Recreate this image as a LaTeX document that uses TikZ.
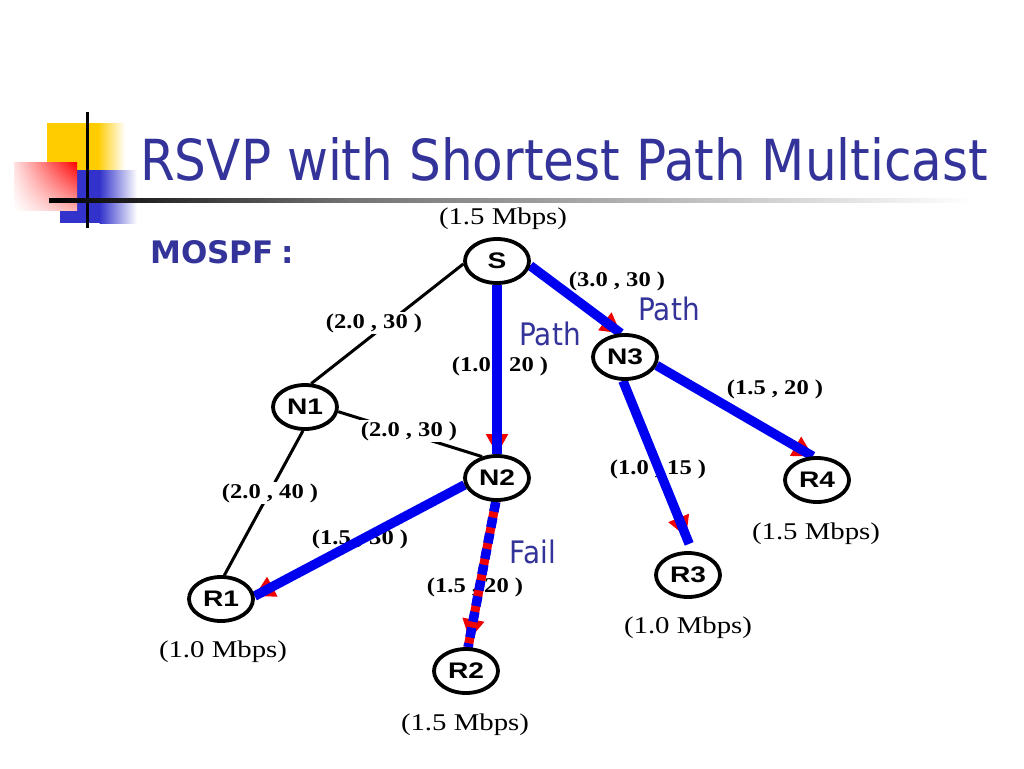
\documentclass[tikz,border=0pt]{standalone}
\usepackage{fontspec}
\setmainfont{Liberation Serif}
\newfontfamily\tahomaf{DejaVu Sans}
\newfontfamily\arialf{Liberation Sans}
\usetikzlibrary{arrows.meta,shapes.geometric,shadings}
\definecolor{ttl}{RGB}{51,51,153}
\definecolor{linkblue}{RGB}{0,0,240}
\definecolor{arrred}{RGB}{240,0,0}
\definecolor{yel}{RGB}{255,204,0}
\definecolor{blu}{RGB}{51,51,204}
\newcommand\wdA[1]{\scalebox{1.25}[1]{#1}}
\newcommand\wdB[1]{\scalebox{1.2}[1]{#1}}
\newcommand\wdC[1]{\scalebox{0.9}[1]{#1}}
\newcommand\wdD[1]{\scalebox{1.17}[1]{#1}}
\pgfdeclarelayer{bg}
\pgfdeclarelayer{lines}
\pgfdeclarelayer{labels}
\pgfdeclarelayer{flows}
\pgfsetlayers{bg,lines,labels,flows,main}
\tikzset{
 router/.style={ellipse, draw=black, line width=3.8pt, fill=white, minimum width=64pt, minimum height=44pt, inner sep=0pt, font=\arialf\bfseries\fontsize{22.5}{22.5}\selectfont},
 cost/.style={inner sep=1.5pt, fill=white, font=\bfseries\fontsize{21}{21}\selectfont},
 rate/.style={inner sep=0pt, font=\fontsize{24}{24}\selectfont},
 note/.style={inner sep=0pt, anchor=base, text=ttl, font=\tahomaf\fontsize{31}{31}\selectfont},
 plainlink/.style={draw=black, line width=3pt},
 flow/.style={draw=linkblue, line width=9.5pt},
 redtip/.style={draw=arrred, line width=2pt, -{Triangle[length=20pt,width=22pt]}},
}
\begin{document}
\begin{tikzpicture}[x=1pt,y=-1pt]
\begin{pgfonlayer}{bg}
\fill[white] (0,0) rectangle (1024,768);
\end{pgfonlayer}
\useasboundingbox (0,0) rectangle (1024,768);
% decoration
\fill[yel] (47,123) rectangle (98,170);
\shade[left color=yel, right color=white] (97.5,123) rectangle (125,170);
\fill[blu] (60,170) rectangle (100,223);
\shade[left color=blu, right color=white] (99.5,170) rectangle (137,223);
\shade[upper left=red!12, upper right=red, lower right=red!30, lower left=white] (14,162) rectangle (77,210);
\draw[line width=3pt] (87,112) -- (87,228);
\shade[left color=black, right color=black!55] (49,198.5) rectangle (350,202.5);
\shade[left color=black!55, right color=white] (349.5,198.5) rectangle (975,202.5);
% title
\node[anchor=base west, inner sep=0pt, text=ttl] (title) at (140,180) {\resizebox{848pt}{43pt}{\tahomaf RSVP with Shortest Path Multicast}};
\node[anchor=base west, inner sep=0pt, text=ttl, font=\tahomaf\bfseries\fontsize{31}{31}\selectfont] (mospf) at (150,263) {MOSPF\hspace{8pt}:};
% routers
\node[router] (S) at (497,261) {\wdA{S}};
\node[router] (N1) at (305,407) {\wdA{N1}};
\node[router] (N2) at (497,478) {\wdA{N2}};
\node[router] (N3) at (625,357) {\wdA{N3}};
\node[router] (R1) at (221,599) {\wdA{R1}};
\node[router] (R2) at (466,671) {\wdA{R2}};
\node[router] (R3) at (688,575) {\wdA{R3}};
\node[router] (R4) at (817,480) {\wdA{R4}};
% rates
\node[rate] (mS) at (503,219) {\wdB{(1.5 Mbps)}};
\node[rate] (m1) at (223,652) {\wdB{(1.0 Mbps)}};
\node[rate] (m2) at (465,725) {\wdB{(1.5 Mbps)}};
\node[rate] (m3) at (688,628) {\wdB{(1.0 Mbps)}};
\node[rate] (m4) at (816,534) {\wdB{(1.5 Mbps)}};
% notes
\node[note] (p1) at (550,345) {\wdC{Path}};
\node[note] (p2) at (669,320) {\wdC{Path}};
\node[note] (fl) at (533,563) {\wdC{Fail}};
% black links
\begin{pgfonlayer}{lines}
\draw[plainlink] (S.185) -- (N1.75);
\draw[plainlink] (N1.-8) -- (N2.125);
\draw[plainlink] (N1.-95) -- (R1.82);
\draw[plainlink] (N2.-93) -- (R2.85);
\end{pgfonlayer}
% cost labels
\begin{pgfonlayer}{labels}
\node[cost] (c1) at (374,323) {\wdD{(2.0 , 30 )}};
\node[cost] (c2) at (500,366) {\wdD{(1.0 , 20 )}};
\node[cost] (c3) at (617,281) {\wdD{(3.0 , 30 )}};
\node[cost] (c4) at (409,431) {\wdD{(2.0 , 30 )}};
\node[cost] (c5) at (270,493) {\wdD{(2.0 , 40 )}};
\node[cost] (c6) at (360,539) {\wdD{(1.5 , 30 )}};
\node[cost] (c7) at (475,587) {\wdD{(1.5 , 20 )}};
\node[cost] (c8) at (658,469) {\wdD{(1.0 , 15 )}};
\node[cost] (c9) at (775,389) {\wdD{(1.5 , 20 )}};
\end{pgfonlayer}
% flows
\begin{pgfonlayer}{flows}
\draw[redtip] (S.south) -- (N2.north);
\draw[flow] (S.south) -- (N2.north);
\draw[redtip] (S.-8) -- (N3.100);
\draw[flow] (S.-8) -- (N3.100);
\draw[redtip] (N3.-15) -- (R4.100);
\draw[flow] (N3.-15) -- (R4.100);
\draw[redtip, shorten >=16pt] (N3.-95) -- (R3.80);
\draw[flow, shorten >=8pt] (N3.-95) -- (R3.80);
\draw[redtip] (N2.-168) -- (R1.5);
\draw[flow] (N2.-168) -- (R1.5);
\draw[draw=arrred, line width=9pt] (N2.-93) -- (R2.85);
\draw[redtip, shorten >=8pt] (N2.-93) -- (R2.85);
\draw[flow, dash pattern=on 10pt off 6pt] (N2.-93) -- (R2.85);
\end{pgfonlayer}
\end{tikzpicture}
\end{document}
